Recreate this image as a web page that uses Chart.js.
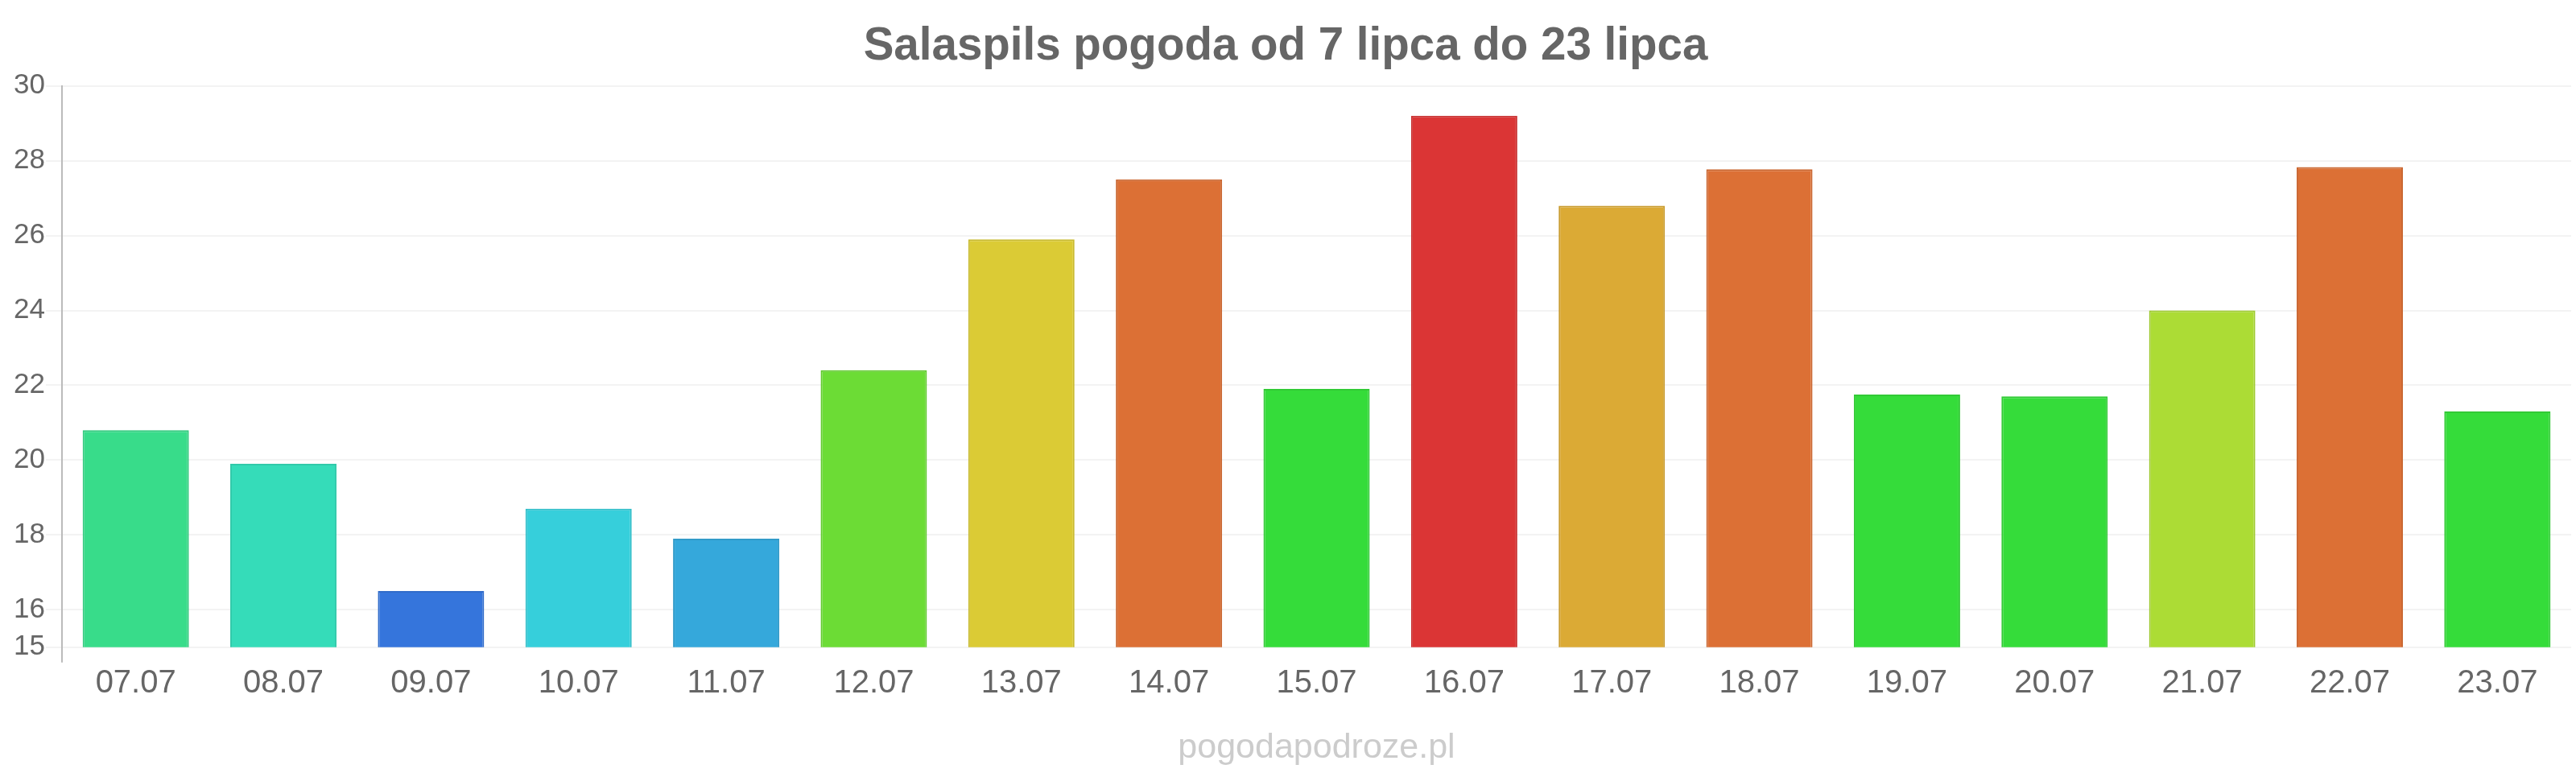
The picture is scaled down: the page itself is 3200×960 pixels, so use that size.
<!DOCTYPE html>
<html>
<head>
<meta charset="utf-8">
<script src="https://cdn.jsdelivr.net/npm/chart.js@4"></script>
<style>
    body { margin: 0; background: #fff; }
    #wrap { width: 3200px; height: 960px; }
</style>
</head>
<body>
<div id="wrap"><canvas id="chart"></canvas></div>
<script>
const categories = ['07.07', '08.07', '09.07', '10.07', '11.07', '12.07', '13.07', '14.07', '15.07',
    '16.07', '17.07', '18.07', '19.07', '20.07', '21.07', '22.07', '23.07'];
const temps = [20.8, 19.9, 16.5, 18.7, 17.9, 22.4, 25.9, 27.5, 21.9,
    29.2, 26.8, 27.77, 21.75, 21.7, 24.0, 27.83, 21.3];
const yTicks = [15, 16, 18, 20, 22, 24, 26, 28, 30];
const barColors = ['#38dc8a', '#35dcb9', '#3575dc', '#36cfdb', '#35a8db', '#6cdc35', '#dbcb35', '#dc7035', '#35dc3a',
    '#db3535', '#dbaa35', '#dc7035', '#35dc3a', '#35dc3a', '#acdc35', '#dc7035', '#35dc3a'];

const FONT = '"Liberation Sans", Arial, sans-serif';

function darker(hex, f) {
    const n = parseInt(hex.slice(1), 16);
    const r = Math.round(((n >> 16) & 255) * f);
    const g = Math.round(((n >> 8) & 255) * f);
    const b = Math.round((n & 255) * f);
    return `rgb(${r},${g},${b})`;
}

// napis pod wykresem
const watermark = {
    id: 'watermark',
    afterDraw(chart) {
        const { ctx, chartArea } = chart;
        ctx.save();
        ctx.font = `43px ${FONT}`;
        ctx.fillStyle = '#cccccc';
        ctx.textAlign = 'center';
        ctx.textBaseline = 'alphabetic';
        ctx.fillText('pogodapodroze.pl', (chartArea.left + chartArea.right) / 2, 941);
        ctx.restore();
    }
};

new Chart(document.getElementById('chart'), {
    type: 'bar',
    data: {
        labels: categories,
        datasets: [{
            data: temps,
            backgroundColor: barColors,
            borderColor: barColors.map(c => darker(c, 0.92)),
            borderWidth: 2,
            borderSkipped: 'bottom'
        }]
    },
    options: {
        responsive: true,
        maintainAspectRatio: false,
        devicePixelRatio: 1,
        animation: false,
        layout: { padding: { left: 0, right: 6, top: 0, bottom: 86.3 } },
        plugins: {
            legend: { display: false },
            tooltip: { enabled: false },
            title: {
                display: true,
                text: 'Salaspils pogoda od 7 lipca do 23 lipca',
                color: '#666666',
                font: { family: FONT, size: 56.5, weight: 'bold' },
                padding: { top: 24.1, bottom: 14.8 }
            }
        },
        scales: {
            x: {
                border: { display: false },
                grid: {
                    display: true,
                    drawOnChartArea: false,
                    tickLength: 19,
                    lineWidth: 2,
                    color: ctx => ctx.index === 0 ? '#bbbbbb' : 'rgba(0,0,0,0)'
                },
                ticks: {
                    color: '#666666',
                    padding: 2,
                    font: { family: FONT, size: 40 }
                },
                afterFit: scale => { scale.height = 70; }
            },
            y: {
                min: 15,
                max: 30,
                border: { display: true, color: '#bbbbbb', width: 2 },
                grid: { color: '#f3f3f3', lineWidth: 2, tickLength: 20 },
                ticks: {
                    color: '#666666',
                    padding: 1,
                    font: { family: FONT, size: 35 }
                },
                afterBuildTicks: scale => { scale.ticks = yTicks.map(v => ({ value: v })); },
                afterFit: scale => { scale.width = 77; }
            }
        }
    },
    plugins: [watermark]
});
</script>
</body>
</html>
